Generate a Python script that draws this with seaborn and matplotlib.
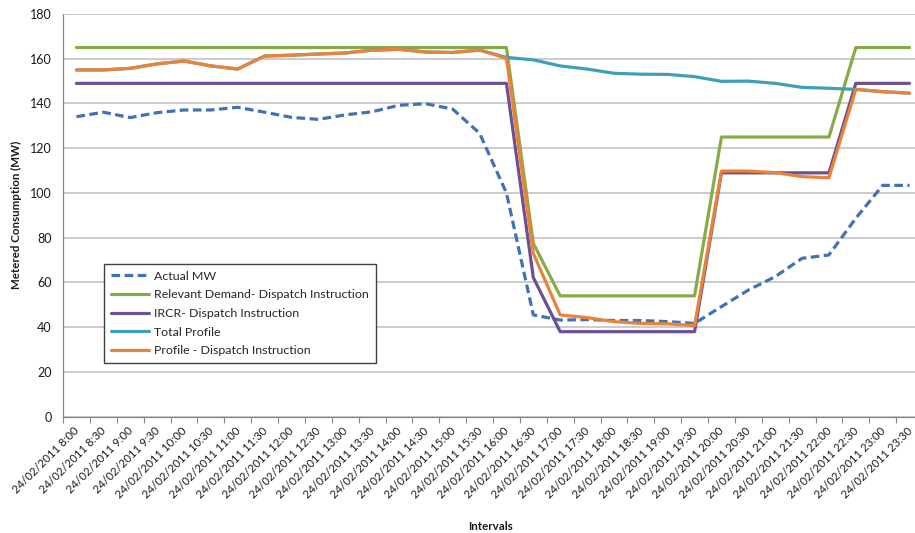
import matplotlib
matplotlib.use("Agg")
import matplotlib.pyplot as plt
import matplotlib.transforms as mtransforms
import seaborn as sns
import pandas as pd
import numpy as np

times = ["8:00", "8:30", "9:00", "9:30", "10:00", "10:30", "11:00", "11:30",
         "12:00", "12:30", "13:00", "13:30", "14:00", "14:30", "15:00", "15:30",
         "16:00", "16:30", "17:00", "17:30", "18:00", "18:30", "19:00", "19:30",
         "20:00", "20:30", "21:00", "21:30", "22:00", "22:30", "23:00", "23:30"]
labels = ["24/02/2011 " + t for t in times]

actual_mw = [134.1, 136.1, 133.7, 135.9, 137.1, 137.1, 138.3, 136.1,
             133.8, 132.9, 134.9, 136.3, 139.2, 139.9, 137.5, 126.7,
             100.0, 45.5, 43.2, 43.4, 43.0, 43.0, 42.5, 41.7,
             49.2, 56.6, 62.6, 70.8, 72.3, 88.7, 103.4, 103.4]
relevant_demand = [165] * 17 + [77.5] + [54] * 6 + [125] * 5 + [165] * 3
ircr = [149] * 17 + [62.2] + [38] * 6 + [109] * 5 + [149] * 3
profile_di = [155.0, 155.0, 155.7, 157.7, 159.0, 156.8, 155.4, 161.2,
              161.6, 162.1, 162.6, 163.8, 164.2, 163.0, 162.8, 163.9,
              160.2, 73.0, 45.5, 44.3, 42.5, 41.7, 41.5, 40.7,
              109.8, 109.8, 109.1, 107.3, 106.8, 146.3, 145.3, 144.6]
total_profile = profile_di[:16] + [160.6, 159.5, 156.8, 155.4, 153.5, 153.1, 153.0, 152.0,
                                   149.9, 150.0, 149.0, 147.2, 146.8, 146.3, 145.3, 144.6]

series = [
    ("Actual MW", actual_mw, "#4172B4", (0, (2.7, 1.4))),
    ("Relevant Demand- Dispatch Instruction", relevant_demand, "#87AB49", "-"),
    ("IRCR- Dispatch Instruction", ircr, "#6B5093", "-"),
    ("Total Profile", total_profile, "#3F9FB8", "-"),
    ("Profile - Dispatch Instruction", profile_di, "#E8843A", "-"),
]

sns.set_theme(style="white")
plt.rcParams["font.family"] = ["Lato", "DejaVu Sans"]

W, H = 915, 533
fig = plt.figure(figsize=(W / 100, H / 100), dpi=100)
left, right_px = 63, 923
top_px, bottom_px = 14, 416.7
ax = fig.add_axes([left / W, 1 - bottom_px / H, (right_px - left) / W, (bottom_px - top_px) / H])

x = np.arange(len(labels))
for i, (name, vals, col, ls) in enumerate(series):
    df = pd.DataFrame({"x": x, "y": vals})
    sns.lineplot(data=df, x="x", y="y", ax=ax, color=col, linewidth=2.3,
                 label=name, zorder=3 + i)
    ax.lines[-1].set_linestyle(ls)

ax.set_xlim(-0.5, len(labels) - 0.5)
ax.set_ylim(0, 180)
ax.set_yticks(np.arange(0, 181, 20))
ax.yaxis.grid(True, color="#BDBDBD", linewidth=1.1, zorder=0)
ax.xaxis.grid(False)

ax.set_xticks(np.arange(-0.5, len(labels)), minor=True)
ax.set_xticks(x)
ax.tick_params(axis="x", which="major", length=0, pad=6)
ax.tick_params(axis="x", which="minor", length=4, color="#888888", width=0.8, direction="out")
ax.tick_params(axis="y", which="major", length=4, color="#888888", width=0.8, direction="out",
               labelsize=9, labelcolor="#1a1a1a", pad=4)
ax.tick_params(axis="x", bottom=True, which="both")
ax.set_xticklabels(labels, rotation=45, ha="right", rotation_mode="anchor", fontsize=8.2,
                   color="#1a1a1a")
shift = mtransforms.ScaledTranslation(-3 / 100, 0, fig.dpi_scale_trans)
for lbl in ax.xaxis.get_majorticklabels():
    lbl.set_transform(lbl.get_transform() + shift)

for s in ["top", "right"]:
    ax.spines[s].set_visible(False)
for s in ["left", "bottom"]:
    ax.spines[s].set_color("#888888")
    ax.spines[s].set_linewidth(0.9)

ax.set_xlabel("")
ax.set_ylabel("")
fig.text(16 / W, 1 - 215 / H, "Metered Consumption (MW)", rotation=90, ha="center", va="center",
         fontsize=8.3, fontweight="bold", color="#1a1a1a")
fig.text(490 / W, 1 - 526 / H, "Intervals", ha="center", va="center",
         fontsize=8.3, fontweight="bold", color="#1a1a1a")

handles, labs = ax.get_legend_handles_labels()
for h, (_, _, col, ls) in zip(handles, series):
    h.set_linestyle(ls)
leg = ax.legend(handles, labs, loc="upper left", bbox_to_anchor=(104 / W, 1 - 264 / H),
                bbox_transform=fig.transFigure, fontsize=8.9, frameon=True, fancybox=False,
                edgecolor="#404040", framealpha=1, borderaxespad=0, handlelength=3.1,
                labelspacing=0.62, borderpad=0.55, handletextpad=0.4)
leg.get_frame().set_linewidth(1.0)
leg.set_zorder(20)

fig.savefig("out.png", dpi=100)
